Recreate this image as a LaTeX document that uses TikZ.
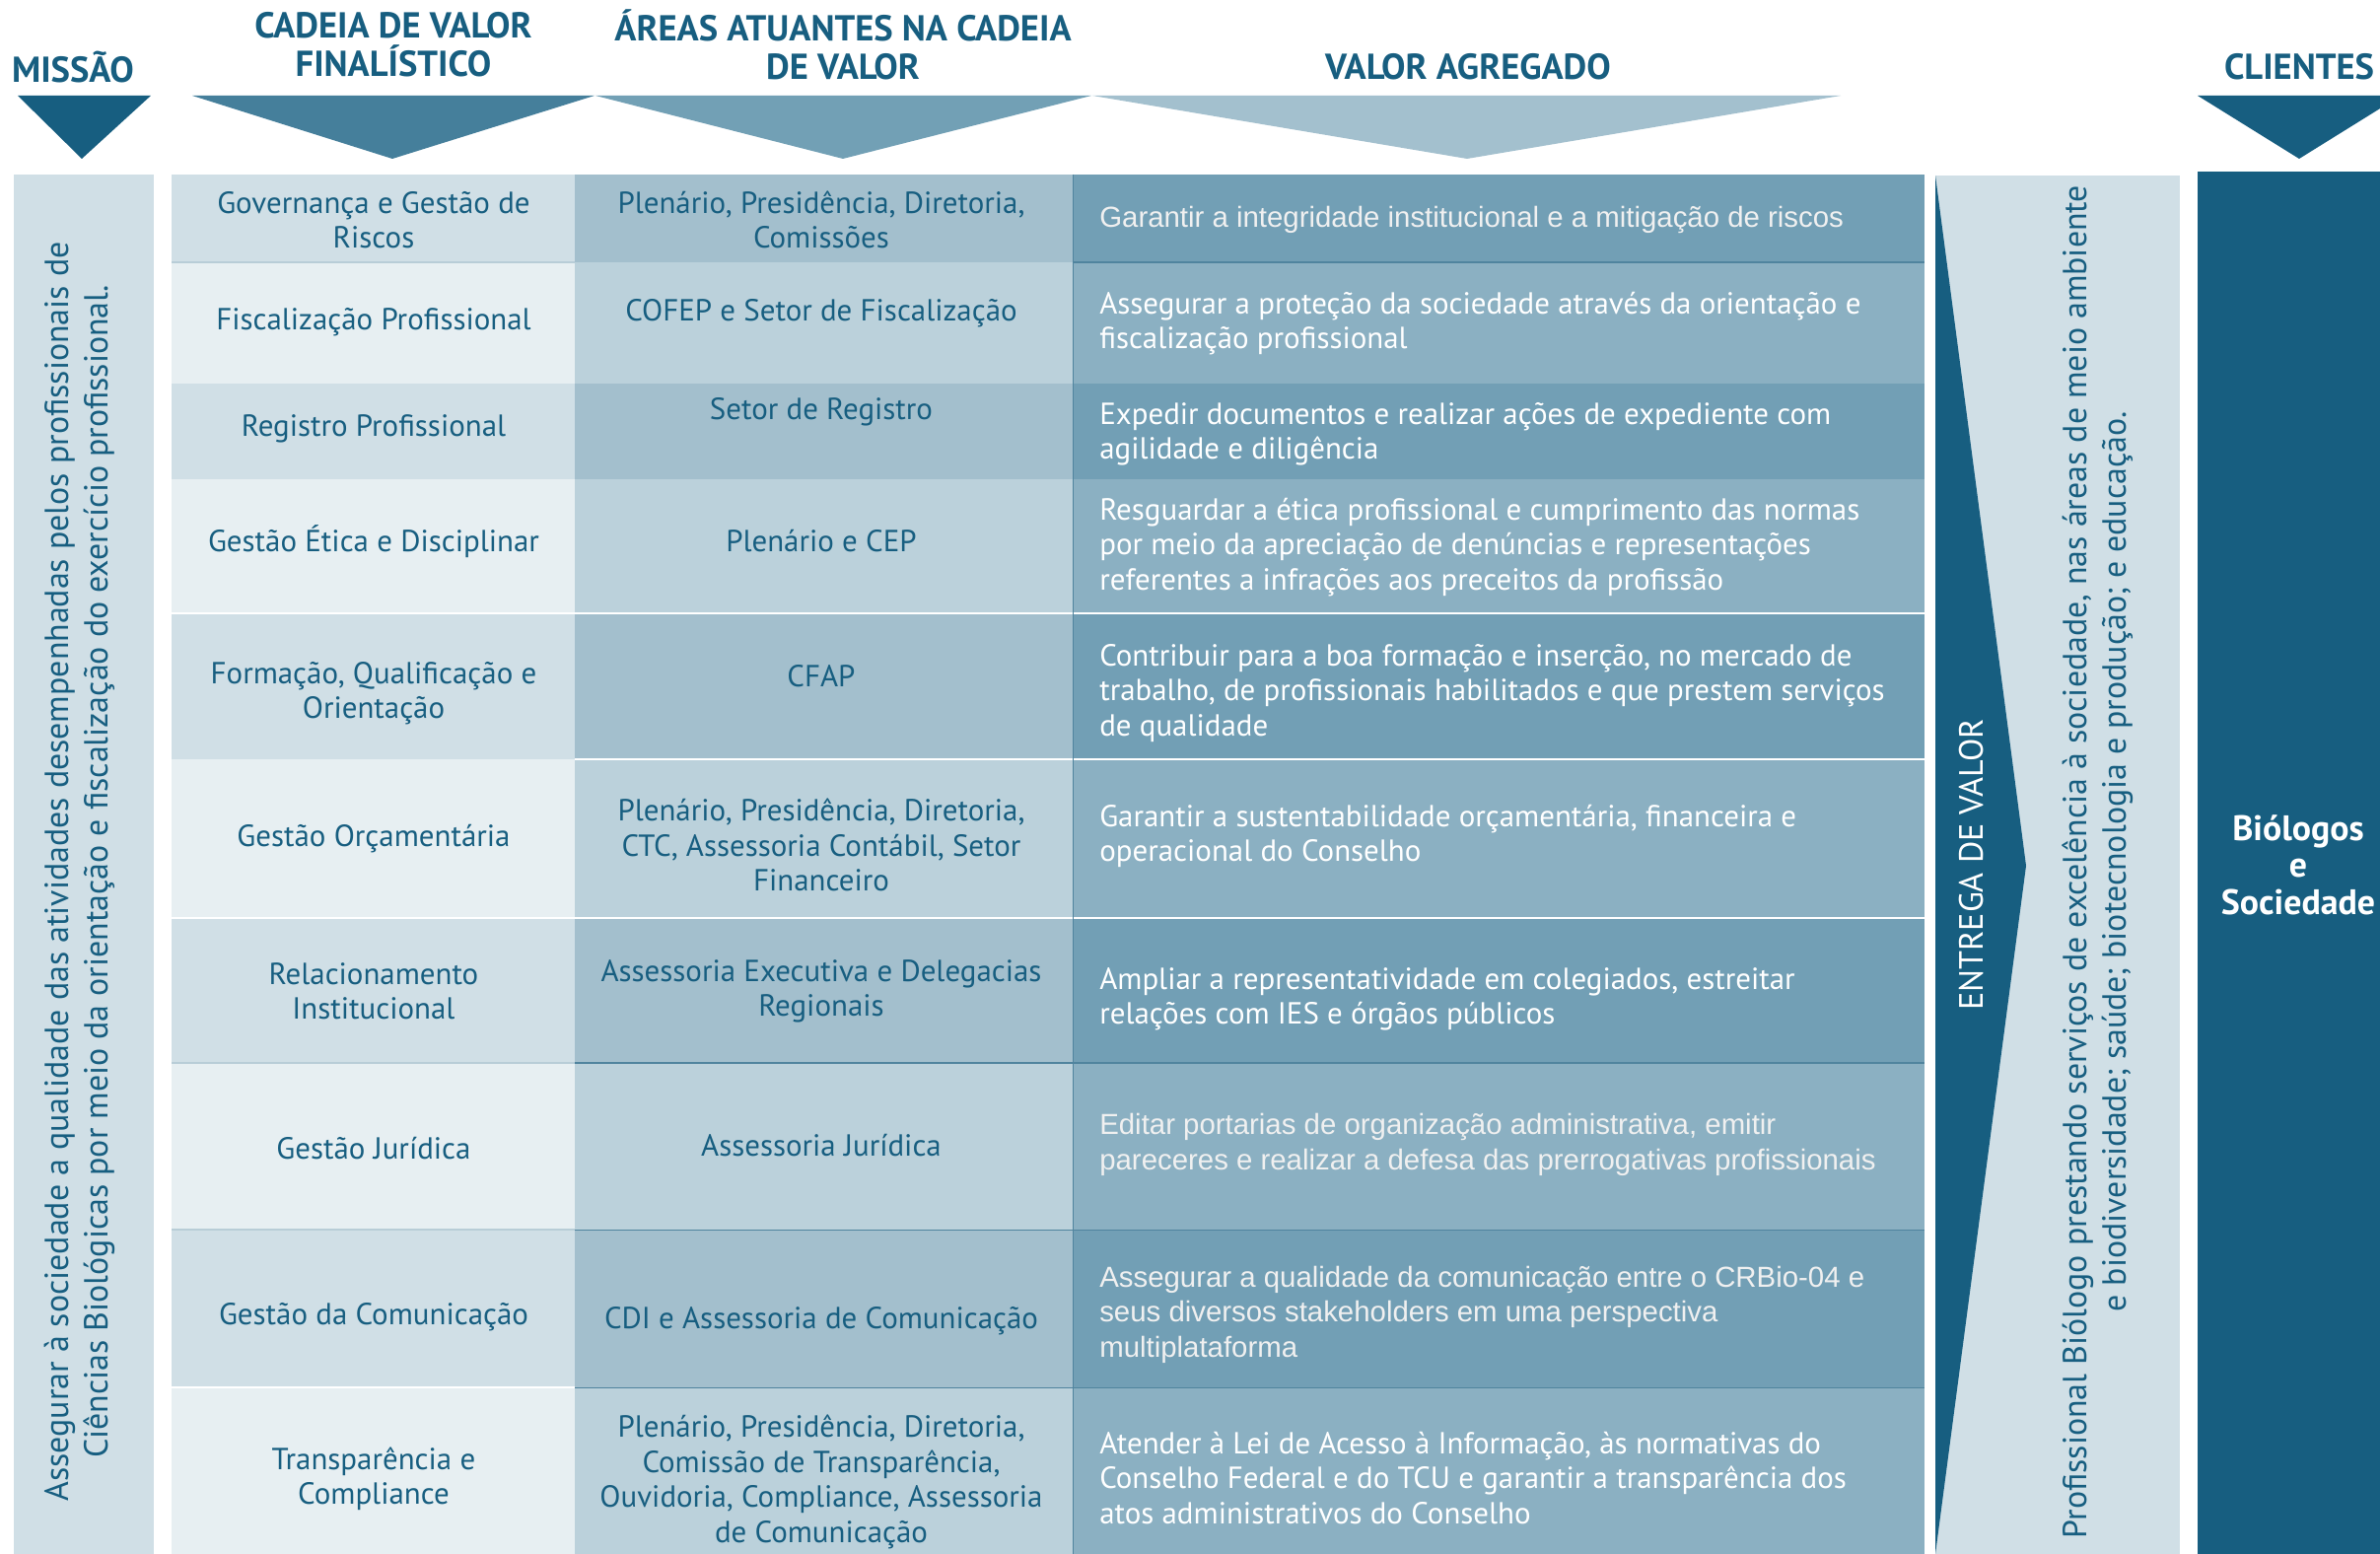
\documentclass[tikz,border=0pt]{standalone}
\usepackage{fontspec}
\setmainfont{PT Sans}
\newfontfamily\arialfont{Liberation Sans}

\definecolor{dkblue}{RGB}{23,94,128}
\definecolor{triA}{RGB}{69,127,155}
\definecolor{triB}{RGB}{114,160,181}
\definecolor{triC}{RGB}{163,192,206}
\definecolor{paleA}{RGB}{208,223,230}
\definecolor{paleB}{RGB}{231,239,242}
\definecolor{midA}{RGB}{163,191,205}
\definecolor{midB}{RGB}{187,209,219}
\definecolor{deepA}{RGB}{114,159,181}
\definecolor{deepB}{RGB}{139,176,194}
\definecolor{lnblue}{RGB}{80,132,158}
\definecolor{lnpale}{RGB}{184,205,215}

\begin{document}
\begin{tikzpicture}[x=0.025cm,y=-0.025cm,inner sep=0pt,
  head/.style={font=\fontsize{26}{27.7}\selectfont\bfseries,text=dkblue,align=center},
  cell/.style={font=\fontsize{22}{25.2}\selectfont,text=dkblue,align=center},
  val/.style={font=\fontsize{22}{25.2}\selectfont,text=white,align=left,anchor=west},
  valarial/.style={font=\arialfont\fontsize{20.9}{25.2}\selectfont,text=white!94!black,align=left,anchor=west},
  vtext/.style={rotate=90,align=center,font=\fontsize{24.1}{28.5}\selectfont}]

\useasboundingbox (0,0) rectangle (2414,1576);
\clip (0,0) rectangle (2414,1576);

% headings and arrows
\node[head] (hM) at (74,68) {MISSÃO};
\node[head] (hC) at (399,45) {CADEIA DE VALOR\\FINALÍSTICO};
\node[head] (hA) at (855,45) {ÁREAS ATUANTES NA CADEIA\\DE VALOR};
\node[head] (hV) at (1489,68) {VALOR AGREGADO};
\node[head] (hK) at (2332,68) {CLIENTES};

\fill[dkblue] (18,97) -- (153,97) -- (83,161) -- cycle;
\fill[triA] (195,97) -- (603,97) -- (398,161) -- cycle;
\fill[triB] (604,97) -- (1107,97) -- (855,161) -- cycle;
\fill[triC] (1108,97) -- (1867,97) -- (1488,161) -- cycle;
\fill[dkblue] (2229,97) -- (2435,97) -- (2332,161) -- cycle;

% missao
\fill[paleA] (14,177) rectangle (156,1576);
\node[vtext,text=dkblue] (mis) at (81,884) {Assegurar à sociedade a qualidade das atividades desempenhadas pelos profissionais de\\Ciências Biológicas por meio da orientação e fiscalização do exercício profissional.};

% table
\fill[paleA] (174,177) rectangle (583,1576);
\fill[midA] (583,177) rectangle (1088,1576);
\fill[deepA] (1088,177) rectangle (1952,1576);
\fill[paleB] (174,266) rectangle (583,389);
\fill[midB] (583,266) rectangle (1088,389);
\fill[deepB] (1088,266) rectangle (1952,389);
\fill[paleB] (174,486) rectangle (583,623);
\fill[midB] (583,486) rectangle (1088,623);
\fill[deepB] (1088,486) rectangle (1952,623);
\fill[paleB] (174,770) rectangle (583,931);
\fill[midB] (583,770) rectangle (1088,931);
\fill[deepB] (1088,770) rectangle (1952,931);
\fill[paleB] (174,1078) rectangle (583,1247);
\fill[midB] (583,1078) rectangle (1088,1247);
\fill[deepB] (1088,1078) rectangle (1952,1247);
\fill[paleB] (174,1407) rectangle (583,1576);
\fill[midB] (583,1407) rectangle (1088,1576);
\fill[deepB] (1088,1407) rectangle (1952,1576);

\draw[white,line width=1.6pt] (174,622) -- (1952,622);
\draw[white,line width=1.6pt] (583,770) -- (1952,770);
\draw[white,line width=1.6pt] (174,931) -- (1952,931);
\draw[white,line width=1.6pt] (174,1407) -- (583,1407);
\draw[lnpale,line width=1.2pt] (174,266) -- (583,266);
\draw[lnpale,line width=1.2pt] (174,1078) -- (583,1078);
\draw[lnpale,line width=0.8pt] (174,1247) -- (583,1247);
\draw[lnblue,line width=0.8pt] (1088,266) -- (1952,266);
\draw[lnblue,line width=0.8pt] (583,1078) -- (1952,1078);
\draw[lnblue,line width=0.6pt] (583,1247) -- (1952,1247);
\draw[lnblue,line width=0.6pt] (583,1407) -- (1952,1407);
\draw[lnblue,line width=0.5pt] (1088,177) -- (1088,1576);

\node[cell] (c1) at (379,223) {Governança e Gestão de\\Riscos};
\node[cell] (c2) at (379,327) {Fiscalização Profissional};
\node[cell] (c3) at (379,435) {Registro Profissional};
\node[cell] (c4) at (379,549) {Gestão Ética e Disciplinar};
\node[cell] (c5) at (379,703) {Formação, Qualificação e\\Orientação};
\node[cell] (c6) at (379,851) {Gestão Orçamentária};
\node[cell] (c7) at (379,1005) {Relacionamento\\Institucional};
\node[cell] (c8) at (379,1165) {Gestão Jurídica};
\node[cell] (c9) at (379,1336) {Gestão da Comunicação};
\node[cell] (c10) at (379,1500) {Transparência e\\Compliance};

\node[cell] (a1) at (833,223) {Plenário, Presidência, Diretoria,\\Comissões};
\node[cell] (a2) at (833,318) {COFEP e Setor de Fiscalização};
\node[cell] (a3) at (833,418) {Setor de Registro};
\node[cell] (a4) at (833,549) {Plenário e CEP};
\node[cell] (a5) at (833,686) {CFAP};
\node[cell] (a6) at (833,857) {Plenário, Presidência, Diretoria,\\CTC, Assessoria Contábil, Setor\\Financeiro};
\node[cell] (a7) at (833,1005) {Assessoria Executiva e Delegacias\\Regionais};
\node[cell] (a8) at (833,1162) {Assessoria Jurídica};
\node[cell] (a9) at (833,1340) {CDI e Assessoria de Comunicação};
\node[cell] (a10) at (833,1503) {Plenário, Presidência, Diretoria,\\Comissão de Transparência,\\Ouvidoria, Compliance, Assessoria\\de Comunicação};

\node[valarial] (v1) at (1115,223) {Garantir a integridade institucional e a mitigação de riscos};
\node[val] (v2) at (1115,328) {Assegurar a proteção da sociedade através da orientação e\\fiscalização profissional};
\node[val] (v3) at (1115,440) {Expedir documentos e realizar ações de expediente com\\agilidade e diligência};
\node[val] (v4) at (1115,555) {Resguardar a ética profissional e cumprimento das normas\\por meio da apreciação de denúncias e representações\\referentes a infrações aos preceitos da profissão};
\node[val] (v5) at (1115,703) {Contribuir para a boa formação e inserção, no mercado de\\trabalho, de profissionais habilitados e que prestem serviços\\de qualidade};
\node[val] (v6) at (1115,848) {Garantir a sustentabilidade orçamentária, financeira e\\operacional do Conselho};
\node[val] (v7) at (1115,1013) {Ampliar a representatividade em colegiados, estreitar\\relações com IES e órgãos públicos};
\node[valarial] (v8) at (1115,1161) {Editar portarias de organização administrativa, emitir\\pareceres e realizar a defesa das prerrogativas profissionais};
\node[valarial] (v9) at (1115,1333) {Assegurar a qualidade da comunicação entre o CRBio-04 e\\seus diversos stakeholders em uma perspectiva\\multiplataforma};
\node[val] (v10) at (1115,1499) {Atender à Lei de Acesso à Informação, às normativas do\\Conselho Federal e do TCU e garantir a transparência dos\\atos administrativos do Conselho};

% entrega de valor
\fill[paleA] (1963,178) rectangle (2211,1576);
\fill[dkblue] (1963,178) -- (2055,878) -- (1963,1576) -- cycle;
\node[vtext,text=white,font=\fontsize{24.3}{28.5}\selectfont] (ent) at (2000,877) {ENTREGA DE VALOR};
\node[vtext,text=dkblue] (prof) at (2128,874) {Profissional Biólogo prestando serviços de excelência à sociedade, nas áreas de meio ambiente\\e biodiversidade; saúde; biotecnologia e produção; e educação.};

% clientes
\fill[dkblue] (2229,174) rectangle (2414,1576);
\node[font=\fontsize{25.5}{26.7}\selectfont\bfseries,text=white,align=center] (cli) at (2331,877) {Biólogos\\e\\Sociedade};

\end{tikzpicture}
\end{document}
